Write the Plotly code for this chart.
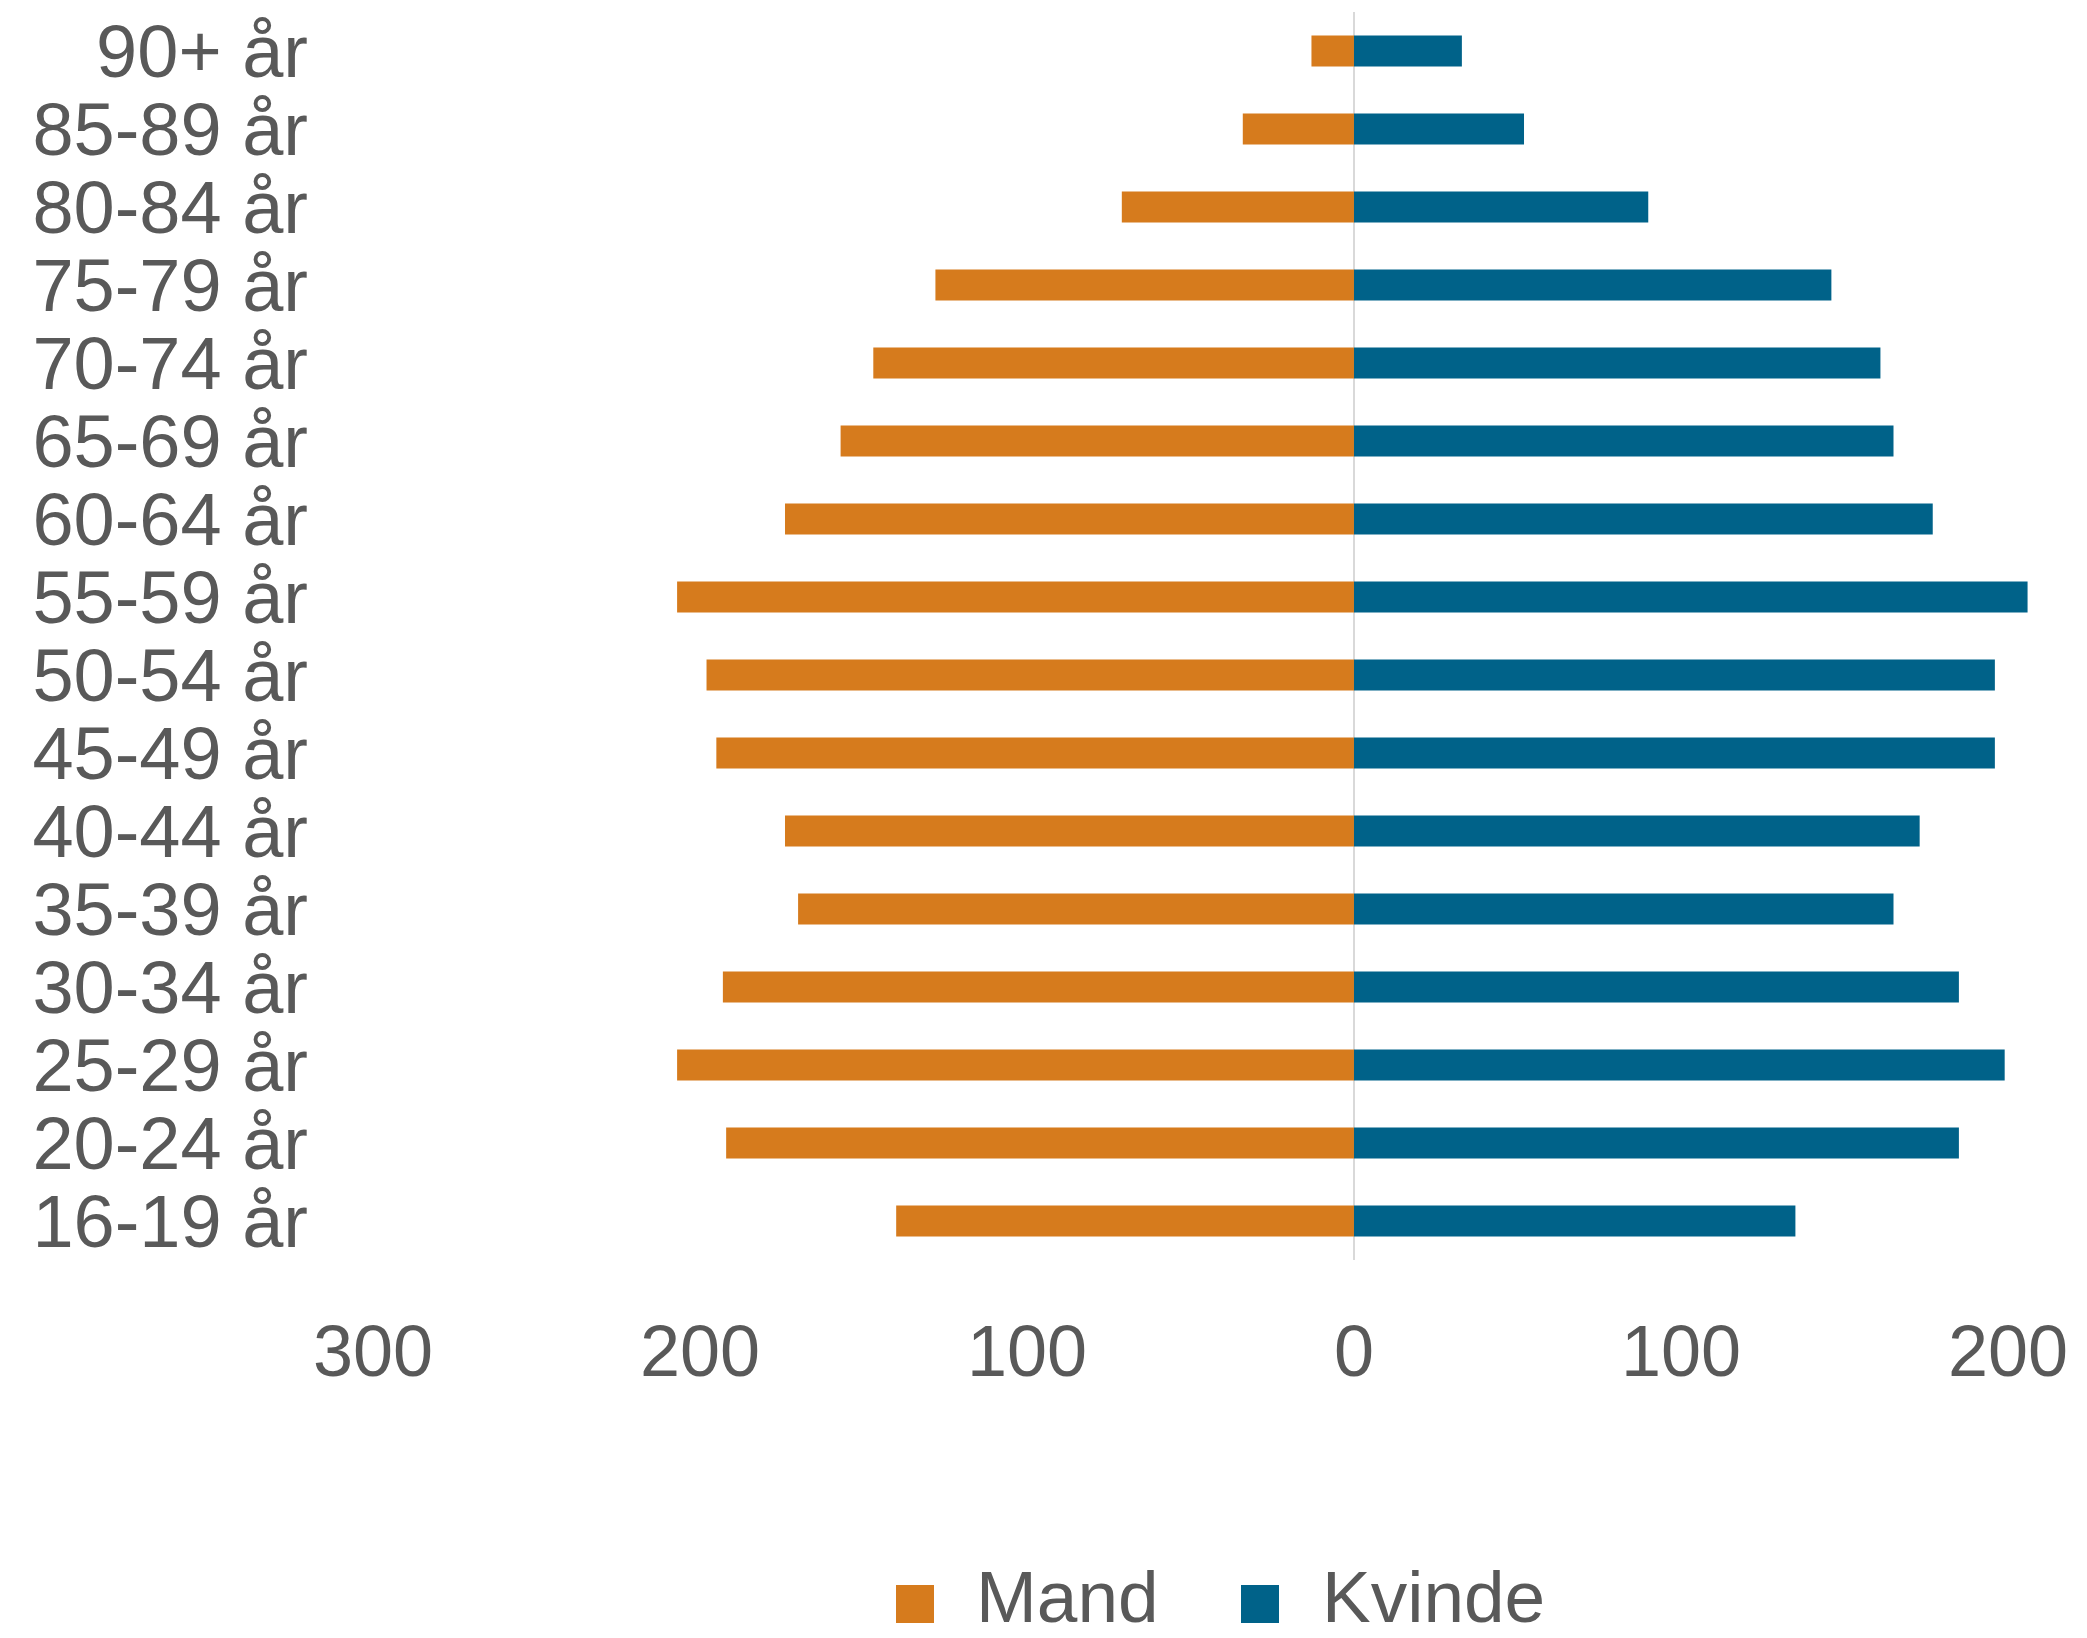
import plotly.graph_objects as go

# age groups, bottom to top
age_groups = [
    "16-19 år", "20-24 år", "25-29 år", "30-34 år", "35-39 år", "40-44 år",
    "45-49 år", "50-54 år", "55-59 år", "60-64 år", "65-69 år", "70-74 år",
    "75-79 år", "80-84 år", "85-89 år", "90+ år",
]
mand = [140, 192, 207, 193, 170, 174, 195, 198, 207, 174, 157, 147, 128, 71, 34, 13]
kvinde = [135, 185, 199, 185, 165, 173, 196, 196, 206, 177, 165, 161, 146, 90, 52, 33]

tick_vals = [-300, -200, -100, 0, 100, 200]
tick_text = ["300", "200", "100", "0", "100", "200"]

ORANGE = "#D67B1D"
BLUE = "#006289"
GREY = "#595959"
FONT = "Liberation Sans, Arial, sans-serif"

# page body adds an 8px offset, so the figure is a bit smaller than the window
OFF = 8
W, H = 2087 - OFF, 1638 - OFF
L, R, T, B = 373 - OFF, 30, 12 - OFF, 378

fig = go.Figure()
fig.add_trace(go.Bar(
    y=age_groups, x=[-v for v in mand], orientation="h", name="Mand",
    marker=dict(color=ORANGE, line=dict(width=0)),
    customdata=mand, hovertemplate="%{y}: %{customdata}<extra>Mand</extra>",
))
fig.add_trace(go.Bar(
    y=age_groups, x=kvinde, orientation="h", name="Kvinde",
    marker=dict(color=BLUE, line=dict(width=0)),
    hovertemplate="%{y}: %{x}<extra>Kvinde</extra>",
))


def px_x(p):
    # p in page pixels
    return (p - OFF - L) / (W - L - R)


def px_y(p):
    return (H - B - (p - OFF)) / (H - T - B)


# hand-made legend (big squares like the original)
legend_items = [("Mand", ORANGE, 896, 974), ("Kvinde", BLUE, 1241, 1320)]
for label, color, sq_x, tx_x in legend_items:
    fig.add_shape(type="rect", xref="paper", yref="paper",
                  x0=px_x(sq_x), x1=px_x(sq_x + 38),
                  y0=px_y(1623), y1=px_y(1585),
                  fillcolor=color, line=dict(width=0))
    fig.add_annotation(text=label, xref="paper", yref="paper",
                       x=px_x(tx_x), y=px_y(1596), xanchor="left", yanchor="middle",
                       showarrow=False, font=dict(size=73, color=GREY, family=FONT))

fig.update_layout(
    width=W, height=H,
    margin=dict(l=L, r=R, t=T, b=B, autoexpand=False),
    barmode="relative",
    bargap=0.6,
    plot_bgcolor="white",
    paper_bgcolor="white",
    showlegend=False,
    font=dict(family=FONT, color=GREY, size=73),
    xaxis=dict(
        range=[-300, 215],
        tickvals=tick_vals, ticktext=tick_text,
        showgrid=False, showline=False, ticks="",
        zeroline=True, zerolinecolor="#D9D9D9", zerolinewidth=2,
        tickfont=dict(size=72, color=GREY),
        ticklabelstandoff=43,
        fixedrange=True,
    ),
    yaxis=dict(
        tickmode="array", tickvals=age_groups,
        showgrid=False, showline=False, ticks="",
        tickfont=dict(size=74, color=GREY),
        ticklabelstandoff=64,
        automargin=False,
        fixedrange=True,
    ),
)

fig.write_html("out.html")
